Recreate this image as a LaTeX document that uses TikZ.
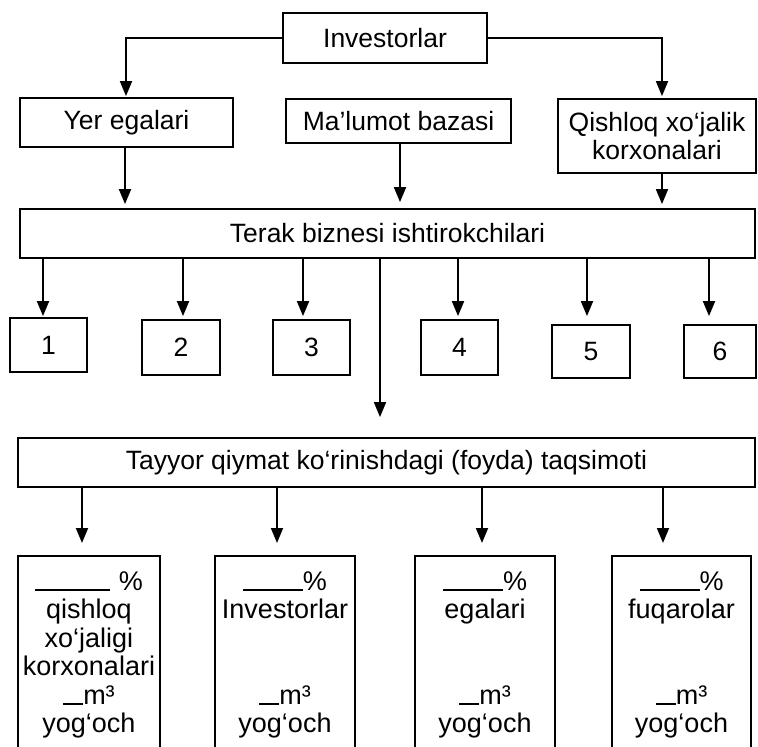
\documentclass[tikz,border=0pt]{standalone}
\usepackage{fontspec}
\setmainfont{Liberation Sans}
\usetikzlibrary{arrows.meta}
\begin{document}
\begin{tikzpicture}[x=1pt,y=-1pt,
  box/.style={draw, line width=1.8pt, inner sep=0pt, align=center,
    font=\fontsize{26.5}{28}\selectfont},
  arr/.style={line width=1.8pt, -{Triangle[length=15pt,width=12pt]}},
  tall/.style={box, anchor=north, minimum height=198pt, font=\fontsize{27}{28.5}\selectfont}]
\useasboundingbox (0,0) rectangle (758,747);
\node[box, minimum width=204pt, minimum height=50pt] (inv) at (385,38) {Investorlar};
\node[box, minimum width=213pt, minimum height=49pt] (yer) at (126.5,122.5) {Yer egalari};
\node[box, minimum width=225pt, minimum height=44pt] (mal) at (398.5,121) {Ma’lumot bazasi};
\node[box, minimum width=198pt, minimum height=74pt] (qis) at (657,136) {Qishloq xo‘jalik\\korxonalari};
\node[box, minimum width=735pt, minimum height=49pt] (terak) at (387.5,233.5) {Terak biznesi ishtirokchilari};
\node[box, minimum width=77pt, minimum height=54pt] (b1) at (48.5,345) {1};
\node[box, minimum width=78pt, minimum height=55pt] (b2) at (181,347.5) {2};
\node[box, minimum width=77pt, minimum height=55pt] (b3) at (311.5,347.5) {3};
\node[box, minimum width=77pt, minimum height=55pt] (b4) at (459.5,347.5) {4};
\node[box, minimum width=78pt, minimum height=53pt] (b5) at (591,351.5) {5};
\node[box, minimum width=72pt, minimum height=53pt] (b6) at (720,351.5) {6};
\node[box, minimum width=737pt, minimum height=49pt] (tay) at (386.5,462.5) {Tayyor qiymat ko‘rinishdagi (foyda) taqsimoti};
\node[tall, minimum width=142pt] (c1) at (89,555) {\rule[-1pt]{75pt}{1.8pt}\,\,\%\\qishloq\\xo‘jaligi\\korxonalari\\\rule[-1pt]{20pt}{1.8pt}m³\\yog‘och};
\node[tall, minimum width=140pt] (c2) at (285,555) {\rule[-1pt]{60pt}{1.8pt}\%\\Investorlar\\\mbox{}\\\mbox{}\\\rule[-1pt]{20pt}{1.8pt}m³\\yog‘och};
\node[tall, minimum width=140pt] (c3) at (485,555) {\rule[-1pt]{60pt}{1.8pt}\%\\egalari\\\mbox{}\\\mbox{}\\\rule[-1pt]{20pt}{1.8pt}m³\\yog‘och};
\node[tall, minimum width=139pt] (c4) at (681.5,555) {\rule[-1pt]{60pt}{1.8pt}\%\\fuqarolar\\\mbox{}\\\mbox{}\\\rule[-1pt]{20pt}{1.8pt}m³\\yog‘och};
% top connectors
\draw[arr, shorten >=1pt] (inv.west) -| (yer.north -| 126,0);
\draw[arr, shorten >=2pt] (inv.east) -| (qis.north -| 662,0);
\draw[arr, shorten >=4pt] (yer.south -| 125,0) -- (terak.north -| 125,0);
\draw[arr, shorten >=6pt] (mal.south -| 400,0) -- (terak.north -| 400,0);
\draw[arr, shorten >=4pt] (qis.south -| 662,0) -- (terak.north -| 662,0);
% to numbered boxes
\draw[arr, shorten >=1pt] (terak.south -| 43,0) -- (b1.north -| 43,0);
\draw[arr, shorten >=3pt] (terak.south -| 183,0) -- (b2.north -| 183,0);
\draw[arr, shorten >=3pt] (terak.south -| 303,0) -- (b3.north -| 303,0);
\draw[arr, shorten >=3pt] (terak.south -| 458,0) -- (b4.north -| 458,0);
\draw[arr, shorten >=8pt] (terak.south -| 587,0) -- (b5.north -| 587,0);
\draw[arr, shorten >=8pt] (terak.south -| 709,0) -- (b6.north -| 709,0);
% long arrow
\draw[arr, shorten >=20pt] (terak.south -| 380,0) -- (tay.north -| 380,0);
% distribution
\draw[arr, shorten >=12pt] (tay.south -| 82,0) -- (c1.north -| 82,0);
\draw[arr, shorten >=12pt] (tay.south -| 277,0) -- (c2.north -| 277,0);
\draw[arr, shorten >=12pt] (tay.south -| 482,0) -- (c3.north -| 482,0);
\draw[arr, shorten >=12pt] (tay.south -| 663,0) -- (c4.north -| 663,0);
\end{tikzpicture}
\end{document}
